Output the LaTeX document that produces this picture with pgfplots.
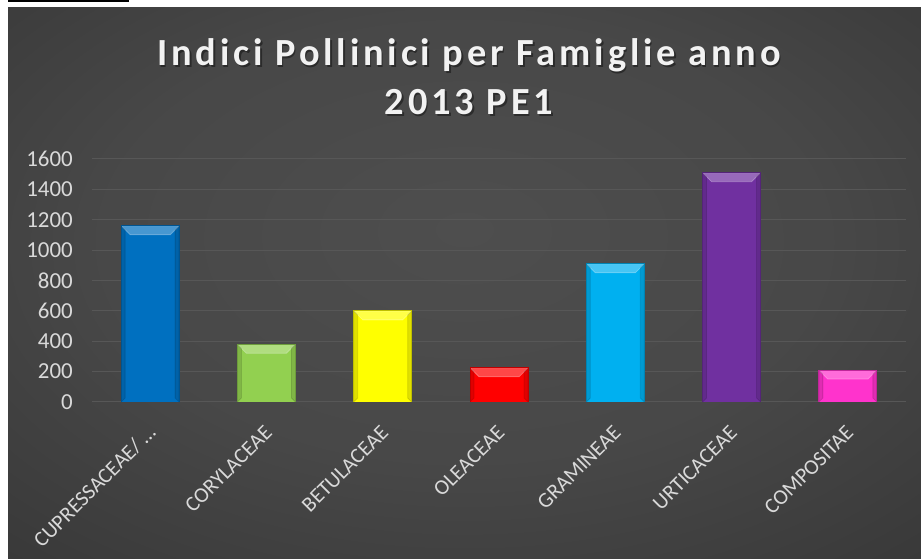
\documentclass[border=0pt]{standalone}
\usepackage{fontspec}
\setmainfont{Carlito}
\usepackage{pgfplots}
\pgfplotsset{compat=1.18}

\definecolor{bginner}{HTML}{4E4E4E}
\definecolor{bgouter}{HTML}{242424}
\definecolor{gridc}{HTML}{575757}
\definecolor{axisc}{HTML}{A6A6A6}
\definecolor{labc}{HTML}{D9D9D9}
\definecolor{cblue}{HTML}{0070C0}
\definecolor{cgreen}{HTML}{92D050}
\definecolor{cyellow}{HTML}{FFFF00}
\definecolor{cred}{HTML}{FF0000}
\definecolor{ccyan}{HTML}{00B0F0}
\definecolor{cpurple}{HTML}{7030A0}
\definecolor{cpink}{HTML}{FF33CC}

\pgfdeclareradialshading{chartbg}{\pgfpoint{0bp}{5bp}}{%
  color(0bp)=(bginner); color(20bp)=(bginner!85!bgouter); color(62bp)=(bgouter); color(80bp)=(bgouter)}

% light top bevel and darker sides on each bar
\tikzset{bevel/.style={postaction={path picture={
  \fill[white, opacity=0.28] (path picture bounding box.north west) -- (path picture bounding box.north east)
     -- ([xshift=-9bp,yshift=-9bp]path picture bounding box.north east)
     -- ([xshift=9bp,yshift=-9bp]path picture bounding box.north west) -- cycle;
  \fill[black, opacity=0.12] (path picture bounding box.north west) -- ([xshift=4bp,yshift=-4bp]path picture bounding box.north west)
     -- ([xshift=4bp,yshift=4bp]path picture bounding box.south west) -- (path picture bounding box.south west) -- cycle;
  \fill[black, opacity=0.12] (path picture bounding box.north east) -- ([xshift=-4bp,yshift=-4bp]path picture bounding box.north east)
     -- ([xshift=-4bp,yshift=4bp]path picture bounding box.south east) -- (path picture bounding box.south east) -- cycle;
}}}}

\begin{document}
\begin{tikzpicture}[x=1bp,y=1bp]
\useasboundingbox (0,0) rectangle (921,559);
\fill[white] (0,0) rectangle (921,559);
\shade[shading=chartbg] (8,0) rectangle (921,551);
\fill[black] (8,556.5) rectangle (129,559);

% title
\begin{scope}[every node/.style={anchor=base, inner sep=0,
    font=\fontsize{38.5}{44}\bfseries\addfontfeature{LetterSpace=10}}]
  \node[text=black, opacity=0.4] at (470.5,491.5) {Indici Pollinici per Famiglie anno};
  \node[text=black, opacity=0.4] at (470.5,442.5) {2013 PE1};
  \node[text=white!95!black] at (469,493) {Indici Pollinici per Famiglie anno};
  \node[text=white!95!black] at (469,444) {2013 PE1};
\end{scope}

\begin{axis}[
    at={(92bp,157bp)}, anchor=south west,
    scale only axis,
    width=814bp, height=243bp,
    xmin=-0.5, xmax=6.5,
    ymin=0, ymax=1600,
    ytick={0,200,...,1600},
    xtick={0,...,6},
    xticklabels={CUPRESSACEAE/ …, CORYLACEAE, BETULACEAE, OLEACEAE, GRAMINEAE, URTICACEAE, COMPOSITAE},
    axis x line*=bottom,
    axis y line*=left,
    y axis line style={draw=none},
    x axis line style={draw=none},
    major tick length=0pt,
    ymajorgrids=true,
    major grid style={draw=gridc, line width=1bp},
    extra y ticks={0},
    extra y tick labels={},
    extra y tick style={grid style={draw=axisc, line width=2bp}},
    /pgf/number format/assume math mode=true,
    /pgf/number format/1000 sep={},
    yticklabel style={font=\fontsize{23}{27}\selectfont, text=labc,
        anchor=east, inner sep=0pt, xshift=-19bp},
    xticklabel style={yshift=-27bp, xshift=2bp, rotate=45, anchor=east, inner sep=0pt,
        font=\fontsize{21.5}{25}\selectfont, text=labc},
    ybar, bar width=58bp, bar shift=0pt,
  ]
  \addplot[fill=cblue, draw=cblue!75!black, line width=0.8bp, bevel] coordinates {(0,1160)};
  \addplot[fill=cgreen, draw=cgreen!75!black, line width=0.8bp, bevel] coordinates {(1,380)};
  \addplot[fill=cyellow, draw=cyellow!75!black, line width=0.8bp, bevel] coordinates {(2,600)};
  \addplot[fill=cred, draw=cred!75!black, line width=0.8bp, bevel] coordinates {(3,225)};
  \addplot[fill=ccyan, draw=ccyan!75!black, line width=0.8bp, bevel] coordinates {(4,910)};
  \addplot[fill=cpurple, draw=cpurple!75!black, line width=0.8bp, bevel] coordinates {(5,1510)};
  \addplot[fill=cpink, draw=cpink!75!black, line width=0.8bp, bevel] coordinates {(6,210)};
\end{axis}
\end{tikzpicture}
\end{document}
